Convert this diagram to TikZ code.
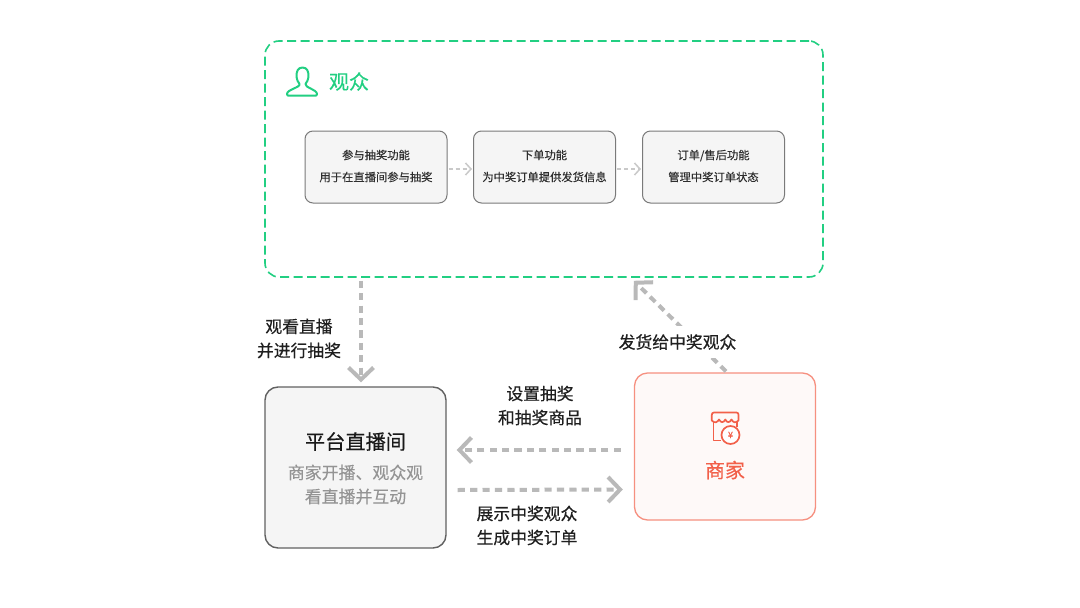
\documentclass[tikz,border=0pt]{standalone}
\usepackage{fontspec}
\setmainfont{Noto Sans CJK SC}
\newfontfamily\cjkm[FakeBold=0.4]{Noto Sans CJK SC}
\newfontfamily\cjkr[FakeBold=0.12]{Noto Sans CJK SC}
\usetikzlibrary{arrows.meta,calc}
\definecolor{audgreen}{HTML}{22CF82}
\definecolor{iconred}{HTML}{F2604A}
\definecolor{flowgray}{HTML}{B9B9B9}
\definecolor{thingray}{HTML}{C9C9C9}
\tikzset{
  x=1pt,y=-1pt,
  funcbox/.style={draw=black!52,fill=black!4,line width=1pt,rounded corners=8pt,minimum width=142pt,minimum height=72pt,inner sep=0pt},
  functext/.style={inner sep=0pt,align=center,font=\cjkr\fontsize{11.3}{22}\selectfont,text=black!82},
  thinflow/.style={draw=thingray,line width=1.5pt,dash pattern=on 4pt off 3pt,-{Straight Barb[sharp,length=5.5pt,width=12pt,line width=1.5pt]}},
  bigflow/.style={draw=flowgray,line width=4pt,dash pattern=on 7.2pt off 5.2pt,-{Straight Barb[sharp,length=12pt,width=25pt,line width=4pt]}},
  flowlabel/.style={align=center,inner sep=0pt,font=\cjkm\fontsize{16.8}{24}\selectfont,text=black!88},
}
\begin{document}
\begin{tikzpicture}
\useasboundingbox (0,0) rectangle (1080,608);
\fill[white] (0,0) rectangle (1080,608);
% containers
\node[draw=audgreen,line width=1.6pt,dash pattern=on 9pt off 4.5pt,rounded corners=14pt,minimum width=558pt,minimum height=236pt,inner sep=0pt] (aud) at (544,159) {};
\node[draw=black!62,fill=black!4,line width=1.4pt,rounded corners=13pt,minimum width=181pt,minimum height=161pt,inner sep=0pt] (live) at (355.5,467.5) {};
\node[draw=iconred!70,fill=iconred!4,line width=1.3pt,rounded corners=13pt,minimum width=181pt,minimum height=147pt,inner sep=0pt] (shop) at (725,446.5) {};
% audience header
\node[inner sep=0pt,font=\cjkm\fontsize{20}{24}\selectfont,text=audgreen] (audtitle) at (349,81.5) {观众};
\draw[audgreen,line width=2pt,line join=round,fill=none]
  (302.5,67.5) .. controls (298,67.5) and (296.5,71.5) .. (296.5,75.5)
  .. controls (296.5,80) and (298.5,82.5) .. (299.5,84)
  .. controls (300.5,87.5) and (287,89.5) .. (287,94)
  .. controls (287,95.5) and (288,95.7) .. (289,95.7)
  -- (315,95.7)
  .. controls (316,95.7) and (317,95.5) .. (317,94)
  .. controls (317,89.5) and (304.5,87.5) .. (305.5,84)
  .. controls (306.5,82.5) and (308.5,80) .. (308.5,75.5)
  .. controls (308.5,71.5) and (307,67.5) .. (302.5,67.5) -- cycle;
% function boxes
\node[funcbox] (f1) at (376,167) {};
\node[funcbox] (f2) at (544.5,167) {};
\node[funcbox] (f3) at (713.5,167) {};
\node[functext] (t1) at (376,166) {{\cjkm 参与抽奖功能}\\用于在直播间参与抽奖};
\node[functext] (t2) at (544.5,166) {{\cjkm 下单功能}\\为中奖订单提供发货信息};
\node[functext] (t3) at (713.5,166) {{\cjkm 订单/售后功能}\\管理中奖订单状态};
\draw[thinflow] ($(f1.east)+(1,2)$) -- ($(f2.west)+(-1,2)$);
\draw[thinflow] ($(f2.east)+(1,2)$) -- ($(f3.west)+(-1,2)$);
% live room text
\node[inner sep=0pt,font=\cjkm\fontsize{20.2}{24}\selectfont,text=black!90] (livetitle) at (355.5,441.5) {平台直播间};
\node[inner sep=0pt,align=center,font=\cjkr\fontsize{16.9}{24}\selectfont,text=black!42] (livesub) at (355.5,484.5) {商家开播、观众观\\看直播并互动};
% merchant
\node[inner sep=0pt,font=\cjkm\fontsize{20}{24}\selectfont,text=iconred] (shoptitle) at (725,470) {商家};
\begin{scope}[iconred,line width=1.7pt,line join=round]
\draw (714,412.5) -- (736.5,412.5) .. controls (738,412.5) and (738.5,413.5) .. (738.5,415) -- (738.5,420.5)
  .. controls (735.5,423.5) and (733,422.5) .. (731.5,419.5)
  .. controls (729.5,423) and (727,423) .. (725.3,419.5)
  .. controls (723.5,423) and (721,423) .. (719,419.5)
  .. controls (717.5,422.5) and (714.5,423.5) .. (711.8,420.5) -- (711.8,415) .. controls (711.8,413.5) and (712.5,412.5) .. (714,412.5) -- cycle;
\draw (713.5,422) -- (713.5,440.5) -- (721,440.5);
\draw (737.2,422) -- (737.2,426.5);
\draw[fill=white] (730.5,435) circle (9);
\end{scope}
\node[inner sep=0pt,font=\cjkm\fontsize{9}{9}\selectfont,text=iconred] (yen) at (730.5,435) {¥};
% flows
\draw[bigflow] ($(aud.south)+(-183,3)$) -- ($(live.north)+(5.5,-4)$);
\draw[bigflow] ($(shop.west)+(-13,3.5)$) -- ($(live.east)+(10,-17.5)$);
\draw[bigflow] ($(live.east)+(11,22.5)$) -- ($(shop.west)+(-11,43)$);
\draw[bigflow] ($(shop.north)+(1,-1)$) -- ($(aud.south east)+(-190,3)$);
% labels
\node[flowlabel] (l1) at (299,338.5) {观看直播\\并进行抽奖};
\node[flowlabel] (l2) at (540,405.5) {设置抽奖\\和抽奖商品};
\node[flowlabel] (l3) at (527,525.5) {展示中奖观众\\生成中奖订单};
\node[flowlabel,fill=white,inner xsep=3pt,inner ysep=8pt] (l4) at (677.5,342) {发货给中奖观众};
\end{tikzpicture}
\end{document}
